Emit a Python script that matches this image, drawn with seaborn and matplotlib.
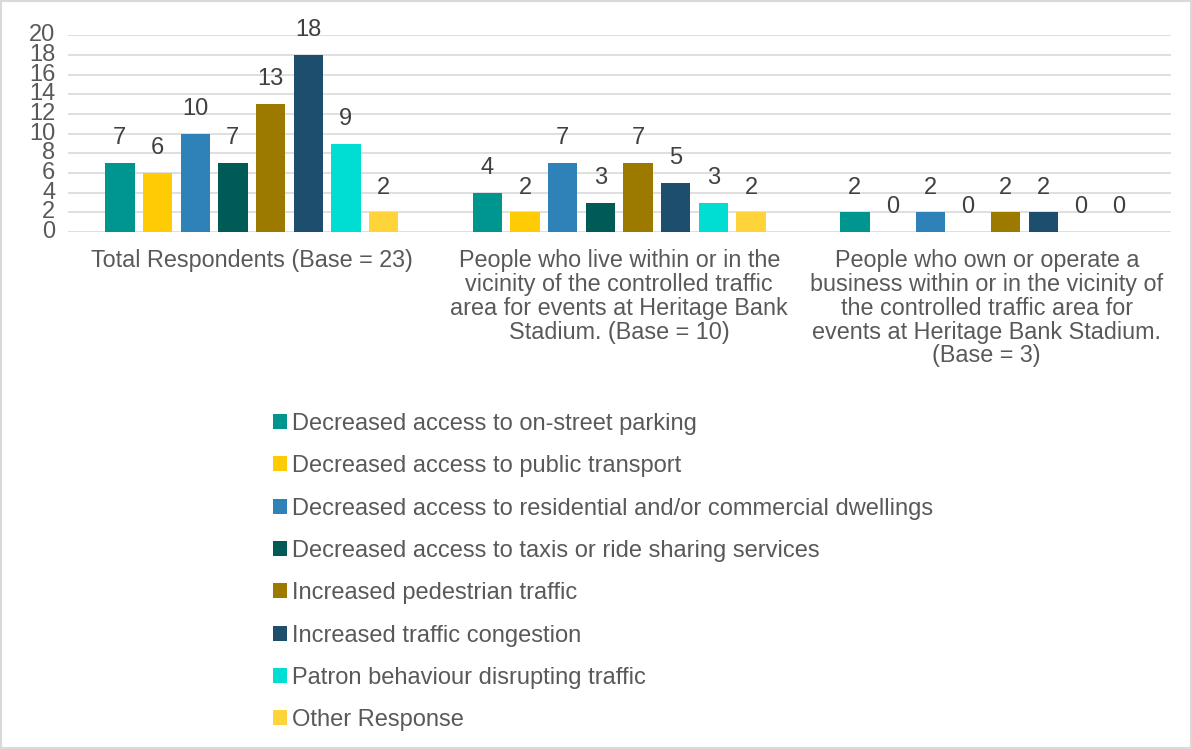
import pandas as pd
import matplotlib.pyplot as plt
import seaborn as sns
from matplotlib.patches import Rectangle

groups = ['Total Respondents (Base = 23)',
          'People who live within or in the\nvicinity of the controlled traffic\narea for events at Heritage Bank\nStadium. (Base = 10)',
          'People who own or operate a\nbusiness within or in the vicinity of\nthe controlled traffic area for\nevents at Heritage Bank Stadium.\n(Base = 3)']
responses = ['Decreased access to on-street parking',
             'Decreased access to public transport',
             'Decreased access to residential and/or commercial dwellings',
             'Decreased access to taxis or ride sharing services',
             'Increased pedestrian traffic',
             'Increased traffic congestion',
             'Patron behaviour disrupting traffic',
             'Other Response']
total = [7, 6, 10, 7, 13, 18, 9, 2]
live = [4, 2, 7, 3, 7, 5, 3, 2]
business = [2, 0, 2, 0, 2, 2, 0, 0]
colors = ['#009690', '#FFCB05', '#2E82B8', '#005A55', '#9C7A00', '#1D4E6E', '#00DDD3', '#FFD43A']

rows = []
for g, vals in zip(groups, [total, live, business]):
    for r, v in zip(responses, vals):
        rows.append({'group': g, 'response': r, 'count': v})
df = pd.DataFrame(rows)

sns.set_style('white')
plt.rcParams['font.family'] = ['Liberation Sans', 'DejaVu Sans']
grey = '#595959'

fig = plt.figure(figsize=(11.92, 7.49), dpi=100)
ax = fig.add_axes([0.057, 0.69, 0.925, 0.263])
sns.barplot(data=df, x='group', y='count', hue='response', hue_order=responses,
            palette=colors, saturation=1, width=0.82, gap=0.22, linewidth=0,
            ax=ax, legend=True)

for c in ax.containers:
    ax.bar_label(c, fontsize=17, color='#404040', padding=10)

ax.set_ylim(0, 20)
ax.set_yticks(range(0, 21, 2))
ax.yaxis.grid(True, color='#d9d9d9', linewidth=1.2)
ax.set_axisbelow(True)
for s in ax.spines.values():
    s.set_visible(False)
ax.set_xlabel('')
ax.set_ylabel('')
ax.tick_params(axis='y', labelsize=17, labelcolor=grey, length=0, pad=9)
ax.tick_params(axis='x', labelsize=16.8, labelcolor=grey, length=0, pad=12)
for t in ax.get_yticklabels():
    t.set_verticalalignment('center')
for t in ax.get_xticklabels():
    t.set_linespacing(1.05)

handles, labels = ax.get_legend_handles_labels()
ax.get_legend().remove()
fig.legend(handles, labels, loc='upper left', bbox_to_anchor=(0.211, 0.477),
           frameon=False, fontsize=17, labelcolor=grey, handlelength=0.6,
           handleheight=0.6, handletextpad=0.2, labelspacing=0.86)

fig.patches.append(Rectangle((0.001, 0.001), 0.998, 0.997, transform=fig.transFigure,
                             fill=False, edgecolor='#d9d9d9', linewidth=1.5))

fig.savefig('out.png', dpi=100)
